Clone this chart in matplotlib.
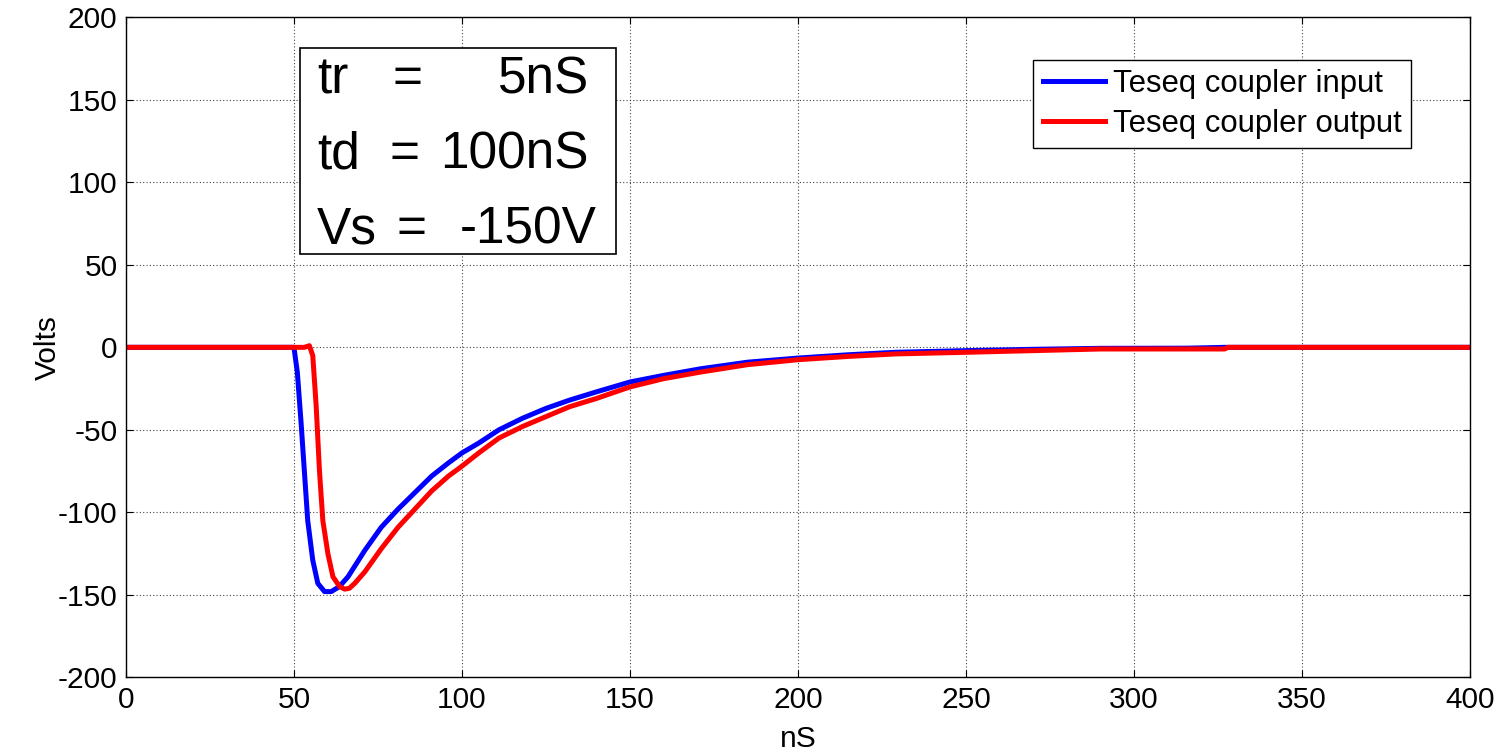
import numpy as np
import matplotlib
matplotlib.use('Agg')
import matplotlib.pyplot as plt
from matplotlib.patches import Rectangle

plt.rcParams['font.family'] = ['Liberation Sans', 'DejaVu Sans']
plt.rcParams['axes.unicode_minus'] = False

# Teseq coupler input (blue)
t_in = [0, 50.0, 51.0, 52.1, 53.1, 54.1, 55.6, 57.1, 59.1, 61.1, 63.5, 66.1, 71.1, 76.0,
        81.0, 86.0, 91.0, 96.0, 100, 105, 111, 118, 125, 132, 140, 150, 160, 171,
        185, 200, 215, 229, 250, 270, 290, 316, 327, 400]
v_in = [0, 0, -15, -45, -75, -105, -129, -143, -148, -148, -145, -139, -123, -109,
        -98, -88, -78, -70, -64, -58, -50, -43, -37, -32, -27, -21, -17, -13,
        -9, -6.5, -4.5, -3, -2, -1.2, -0.6, -0.5, 0, 0]

# Teseq coupler output (red)
t_out = [0, 53.1, 54.6, 55.6, 56.6, 57.6, 58.6, 60.1, 61.6, 63.6, 65.1, 66.5, 68.1, 71.1,
         76.0, 81.0, 86.0, 91.0, 96.0, 100, 105, 111, 118, 125, 132, 140, 150, 160,
         171, 185, 200, 215, 229, 250, 270, 290, 327, 328, 400]
v_out = [0, 0, 1, -5, -35, -75, -105, -125, -139, -145, -146.5, -146, -143, -136,
         -122, -109, -98, -87, -78, -72, -64, -55, -48, -42, -36, -31, -24, -19,
         -15, -10.5, -7.5, -5.5, -4, -3, -2, -1, -1, 0, 0]

fig = plt.figure(figsize=(15.03, 7.51), dpi=100)
ax = fig.add_axes([0.0838, 0.098, 0.8942, 0.879])

ax.plot(t_in, v_in, color='#0000ff', lw=3.6, label='Teseq coupler input')
ax.plot(t_out, v_out, color='#ff0000', lw=3.6, label='Teseq coupler output')

ax.set_xlim(0, 400)
ax.set_ylim(-200, 200)
ax.set_xticks(np.arange(0, 401, 50))
ax.set_yticks(np.arange(-200, 201, 50))
ax.tick_params(direction='in', top=True, right=True, length=5, width=0.8,
               labelsize=21.5, pad=6)
ax.grid(True, color='#444444', linestyle=(0, (1, 2)), linewidth=0.8)
for s in ax.spines.values():
    s.set_linewidth(1.0)
ax.set_xlabel('nS', fontsize=21.5, labelpad=8)
ax.set_ylabel('Volts', fontsize=21.5, labelpad=-3)

leg = ax.legend(loc='upper right', bbox_to_anchor=(0.956, 0.936), borderaxespad=0,
                fontsize=22.4, handlelength=2.0, handletextpad=0.25,
                labelspacing=0.32, borderpad=0.3, fancybox=False, framealpha=1,
                edgecolor='black')
leg.get_frame().set_linewidth(1.0)

# parameter box
ax.add_patch(Rectangle((0.1295, 0.642), 0.2351, 0.312, transform=ax.transAxes,
                       facecolor='white', edgecolor='black', lw=1.2, zorder=5))
rows = [('tr', '=', '5nS', 0.885, 0.198, 0.3445),
        ('td', '=', '100nS', 0.771, 0.196, 0.3445),
        ('Vs', '=', '-150V', 0.658, 0.201, 0.3505)]
for name, eq, val, yb, xeq, xr in rows:
    ax.text(0.142, yb, name, transform=ax.transAxes, fontsize=37, va='baseline',
            ha='left', zorder=6)
    ax.text(xeq, yb, eq, transform=ax.transAxes, fontsize=37, va='baseline',
            ha='left', zorder=6)
    ax.text(xr, yb, val, transform=ax.transAxes, fontsize=37, va='baseline',
            ha='right', zorder=6)

fig.savefig('out.png', dpi=100)
